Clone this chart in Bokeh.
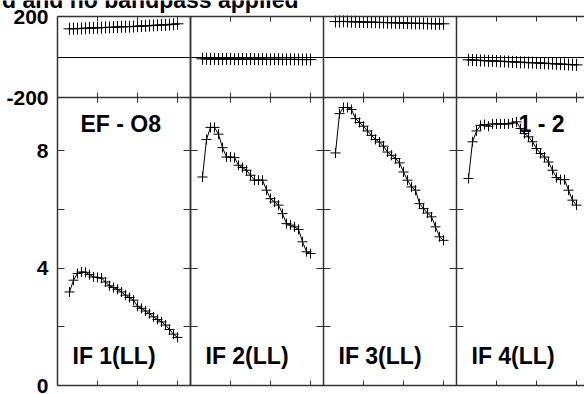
from bokeh.plotting import figure
from bokeh.models import Range1d, LinearAxis, FixedTicker, Label
from bokeh.embed import file_html
from bokeh.resources import INLINE

# ---------------- data ----------------
channels = [3, 4, 5, 6, 7, 8, 9, 10, 11, 12, 13, 14, 15, 16, 17, 18, 19, 20,
            21, 22, 23, 24, 25, 26, 27, 28, 29, 30]

amp_if1 = [3.19, 3.59, 3.82, 3.87, 3.86, 3.78, 3.70, 3.68, 3.66, 3.53, 3.40, 3.34,
           3.28, 3.19, 3.08, 3.00, 2.91, 2.70, 2.63, 2.54, 2.45, 2.34, 2.25, 2.17,
           2.06, 1.91, 1.75, 1.64]
amp_if2 = [7.11, 8.39, 8.80, 8.80, 8.57, 8.11, 7.79, 7.79, 7.77, 7.51, 7.43, 7.34,
           7.17, 7.00, 7.00, 7.00, 6.66, 6.37, 6.26, 6.15, 5.86, 5.52, 5.47, 5.41,
           5.32, 4.90, 4.56, 4.50]
amp_if3 = [7.93, 9.27, 9.48, 9.48, 9.41, 9.10, 8.97, 8.84, 8.68, 8.53, 8.39, 8.30,
           8.16, 7.96, 7.85, 7.74, 7.59, 7.28, 7.00, 6.77, 6.66, 6.20, 6.03, 5.88,
           5.75, 5.41, 5.07, 4.95]
amp_if4 = [7.06, 8.31, 8.68, 8.87, 8.90, 8.84, 8.92, 8.92, 8.92, 8.92, 8.92, 8.95,
           8.99, 8.76, 8.59, 8.48, 8.31, 8.08, 7.91, 7.79, 7.62, 7.34, 7.09, 7.02,
           7.02, 6.66, 6.32, 6.15]

phase_if1 = [139, 140, 140, 141, 142, 143, 143, 144, 145, 146, 146, 147, 148, 149,
             150, 150, 151, 152, 153, 154, 155, 156, 157, 158, 159, 160, 162, 164]
phase_if2 = [-9, -9, -10, -9, -10, -10, -9, -10, -11, -10, -10, -11, -10, -11,
             -11, -10, -11, -12, -11, -11, -12, -12, -11, -12, -12, -13, -12, -13]
phase_if3 = [175, 175, 176, 175, 174, 174, 173, 173, 172, 172, 171, 171, 170, 170,
             169, 169, 168, 168, 167, 167, 166, 166, 166, 165, 165, 164, 164, 164]
phase_if4 = [-14, -15, -16, -17, -18, -19, -19, -20, -21, -22, -23, -24, -25, -26,
             -27, -28, -28, -29, -30, -31, -32, -33, -34, -35, -36, -37, -38, -39]

if_labels = ["IF 1(LL)", "IF 2(LL)", "IF 3(LL)", "IF 4(LL)"]
baseline_left = "EF - O8"
baseline_right = "1 - 2"
title_text = "d and no bandpass applied"

amp_label_ticks = [0, 4, 8]
amp_minor_ticks = [2, 6]
amp_all_ticks = [2, 4, 6, 8]
phase_ticks = [-200, 200]
chan_ticks = [10, 20, 30]

# ---------------- layout (frame fills the whole canvas) ----------------
W, H = 584, 394
BL, BB = 57, 9         # px left of the first panel / below the amplitude panels
TOPPAD = 16            # px above the phase panels (title area)
PH = 81                # phase sub-panel height px
AH = H - BB - TOPPAD - PH  # amplitude sub-panel height px
PX_PER_CH = 4.0
PANEL_CH = 33.25
AMP_TOP = 9.82
PHASE_MAX = 200.0

amp_per_px = AMP_TOP / AH
deg_per_px = 2 * PHASE_MAX / PH
x_start = -BL / PX_PER_CH
x_end = (W - BL) / PX_PER_CH
amp_start = -BB * amp_per_px
amp_end = (H - BB) * amp_per_px
phase_end = PHASE_MAX + TOPPAD * deg_per_px
phase_start = phase_end - H * deg_per_px


def phase_to_amp(ph):
    # position of a phase value expressed on the amplitude scale (for the shared label axis)
    return AMP_TOP + (ph + PHASE_MAX) / deg_per_px * amp_per_px


panel_top = phase_to_amp(PHASE_MAX)

AX_COLOR = "#333333"
AX_W = 1.5
FONT = "Liberation Sans"

p = figure(width=W, height=H, x_range=Range1d(x_start, x_end),
           y_range=Range1d(amp_start, amp_end),
           x_axis_location=None, y_axis_location=None, toolbar_location=None,
           output_backend="svg", min_border=0, outline_line_color=None,
           background_fill_color="white", border_fill_color="white")
p.grid.visible = False

names = ["default", "p2", "p3", "p4"]
p.extra_y_ranges = {"phase": Range1d(phase_start, phase_end)}
p.extra_x_ranges = {names[k]: Range1d(x_start - k * PANEL_CH, x_end - k * PANEL_CH)
                    for k in range(1, 4)}


def add_axis(side, ticks, xr, yr, loc, tick_in, line=True, bounds="auto",
             color=AX_COLOR, width=AX_W):
    ax = LinearAxis(ticker=FixedTicker(ticks=ticks), x_range_name=xr, y_range_name=yr,
                    fixed_location=loc, major_tick_in=tick_in, major_tick_out=0,
                    minor_tick_in=0, minor_tick_out=0, bounds=bounds,
                    axis_line_color=color if line else None, axis_line_width=width,
                    major_tick_line_color=AX_COLOR, major_tick_line_width=1)
    ax.major_label_text_font_size = "0px"
    ax.major_label_text_color = None
    p.add_layout(ax, side)
    return ax


# zero-phase line across all panels
add_axis("above", [], "default", "phase", 0, 0, bounds=(0, x_end), color="black", width=1)

# labelled left axis (amplitude 0/4/8 and phase -200/200)
lab_ticks = list(amp_label_ticks) + [phase_to_amp(v) for v in phase_ticks]
lab_text = {t: str(t) for t in amp_label_ticks}
for v in phase_ticks:
    lab_text[phase_to_amp(v)] = str(v)
lab_axis = LinearAxis(ticker=FixedTicker(ticks=lab_ticks), fixed_location=0,
                      major_tick_in=7, major_tick_out=0,
                      minor_tick_in=0, minor_tick_out=0, axis_line_color=AX_COLOR,
                      axis_line_width=AX_W, major_tick_line_color=AX_COLOR,
                      bounds=(0, panel_top),
                      major_label_overrides=lab_text, major_label_standoff=9,
                      major_label_text_font=FONT, major_label_text_font_style="bold",
                      major_label_text_font_size="21px", major_label_text_color="black")
p.add_layout(lab_axis, "left")
add_axis("left", amp_minor_ticks, "default", "default", 0, 7, line=False)

for k in range(4):
    xr = names[k]
    hb = (0, x_end) if k == 0 else "auto"
    if k > 0:
        add_axis("left", amp_all_ticks, xr, "default", 0, 7, bounds=(0, panel_top))
    if k < 3:
        add_axis("right", amp_all_ticks, xr, "default", PANEL_CH, 7, line=(k == 0),
                 bounds=(0, panel_top))
    add_axis("above", chan_ticks, xr, "phase", PHASE_MAX, 5, line=(k == 0), bounds=hb)
    add_axis("below", chan_ticks, xr, "phase", -PHASE_MAX, 5, line=(k == 0), bounds=hb)
    add_axis("above", chan_ticks, xr, "phase", -PHASE_MAX, 5, line=False, bounds=hb)
    add_axis("below", chan_ticks, xr, "default", 0, 5, line=(k == 0), bounds=hb)

amps = [amp_if1, amp_if2, amp_if3, amp_if4]
phases = [phase_if1, phase_if2, phase_if3, phase_if4]
for k in range(4):
    xr = names[k]
    p.line(channels, amps[k], x_range_name=xr, line_color="black", line_width=1)
    p.scatter(channels, amps[k], x_range_name=xr, marker="cross", size=10,
              line_color="black", line_width=1)
    p.line(channels, phases[k], x_range_name=xr, y_range_name="phase",
           line_color="black", line_width=1)
    p.scatter(channels, phases[k], x_range_name=xr, y_range_name="phase",
              marker="cross", size=12, line_color="black", line_width=1)


def add_label(text, x, y, xr="default", yr="default", align="left", size="23px",
              baseline="alphabetic"):
    p.add_layout(Label(x=x, y=y, x_range_name=xr, y_range_name=yr, text=text,
                       text_font=FONT, text_font_style="bold", text_font_size=size,
                       text_color="black", text_align=align, text_baseline=baseline))


for k in range(4):
    add_label(if_labels[k], 3.75, 1.0, xr=names[k])
add_label(baseline_left, 5.75, 8.90)
add_label(baseline_right, 15.5, 8.90, xr="p4")
add_label(title_text, 60.25, 12.71, align="right", baseline="bottom")

open("out.html", "w").write(file_html(p, INLINE))
